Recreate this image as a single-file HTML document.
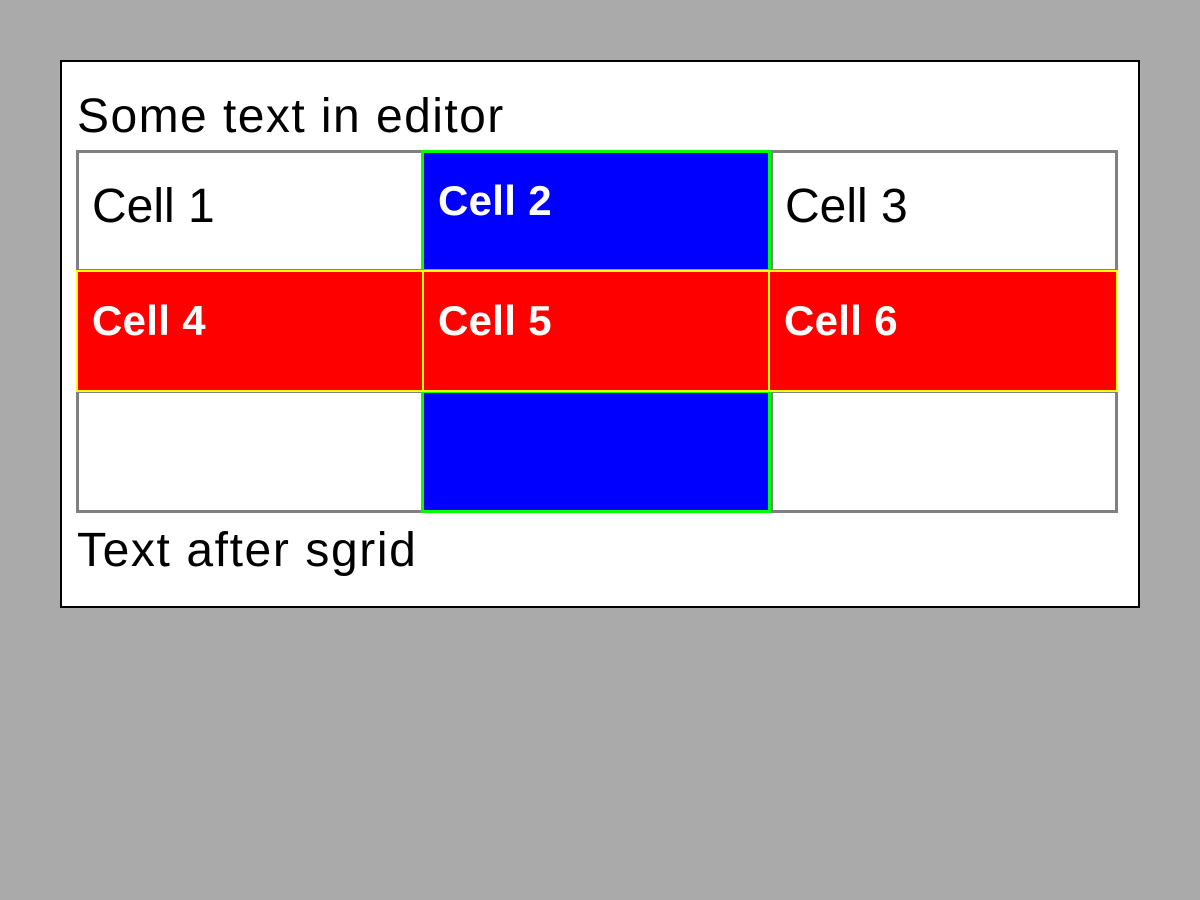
<!DOCTYPE html>
<html><head><meta charset="utf-8"><style>
body{margin:0;width:1200px;height:900px;background:#aaaaaa;position:relative;overflow:hidden;font-family:"Liberation Sans",sans-serif}
.box{position:absolute;left:60px;top:60px;width:1076px;height:544px;background:#fff;border:2px solid #000}
.t{position:absolute;line-height:1;white-space:nowrap}
.n{font-size:48px;color:#000}
.b{font-size:42px;font-weight:bold;color:#fff}
.c{position:absolute;box-sizing:border-box;border:3px solid}
</style></head><body>
<div class="box"></div>
<div class="t n" style="left:77px;top:93px;letter-spacing:1.45px">Some text in editor</div>
<div class="c" style="left:76px;top:150px;width:348px;height:122px;border-color:#808080;background:#fff"></div>
<div class="c" style="left:770px;top:150px;width:348px;height:122px;border-color:#808080;background:#fff"></div>
<div class="c" style="left:421px;top:150px;width:350px;height:122px;border-color:#00ff00;background:#0000ff"></div>
<div class="c" style="left:76px;top:390px;width:348px;height:123px;border-color:#808080;background:#fff"></div>
<div class="c" style="left:770px;top:390px;width:348px;height:123px;border-color:#808080;background:#fff"></div>
<div class="c" style="left:421px;top:390px;width:350px;height:123px;border-color:#00ff00;background:#0000ff"></div>
<div class="c" style="left:76px;top:270px;width:348px;height:122px;border-width:2px;border-color:#ffff00;background:#ff0000"></div>
<div class="c" style="left:422px;top:270px;width:349px;height:122px;border-width:2px;border-color:#ffff00;background:#ff0000"></div>
<div class="c" style="left:768px;top:270px;width:350px;height:122px;border-width:2px;border-color:#ffff00;background:#ff0000"></div>
<div class="t n" style="left:92px;top:183px">Cell 1</div>
<div class="t b" style="left:438px;top:180px;letter-spacing:0.3px">Cell 2</div>
<div class="t n" style="left:785px;top:183px">Cell 3</div>
<div class="t b" style="left:92px;top:300px;letter-spacing:0.3px">Cell 4</div>
<div class="t b" style="left:438px;top:300px;letter-spacing:0.3px">Cell 5</div>
<div class="t b" style="left:784px;top:300px;letter-spacing:0.3px">Cell 6</div>
<div class="t n" style="left:77px;top:527px;letter-spacing:1.6px">Text after sgrid</div>
</body></html>
